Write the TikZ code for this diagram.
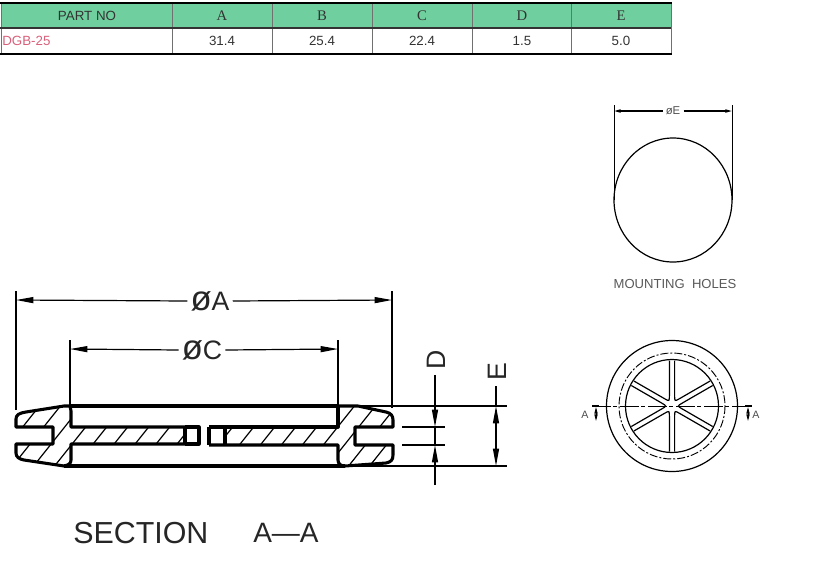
\documentclass[tikz,border=0pt]{standalone}
\usepackage{fontspec}
\setmainfont{Liberation Sans}
\newfontfamily\cellfont{Liberation Serif}
\usetikzlibrary{arrows.meta}
\definecolor{headgreen}{HTML}{70CF9E}
\definecolor{partred}{HTML}{D9607A}
\definecolor{cellline}{HTML}{707070}
\tikzset{
    bigtip/.style={>={Stealth[length=13pt,width=4.5pt,inset=0pt]}},
    smalltip/.style={>={Stealth[length=5pt,width=2.4pt,inset=0pt]}},
    outline/.style={line width=2.3pt, line join=round},
    dimline/.style={line width=0.9pt},
    thinline/.style={line width=0.7pt},
    hatchline/.style={line width=0.9pt},
    cell/.style={font=\fontsize{10}{12}\selectfont, text=black!80},
    bigtext/.style={font=\fontsize{20}{24}\selectfont, text=black!85, inner sep=0pt},
}
\newcommand{\diasign}{{\fontsize{26}{24}\selectfont ø}}
\begin{document}
\begin{tikzpicture}[x=0.75pt, y=-0.75pt]
    \useasboundingbox (0,0) rectangle (821,576);
    % table
    \fill[headgreen] (1,4) rectangle (671,28);
    \foreach \colx in {172,272,372,472,571}
        \draw[cellline, thinline] (\colx,3) -- (\colx,53);
    \draw[cellline, thinline] (1,3) -- (1,53);
    \draw[cellline, thinline] (671,3) -- (671,53);
    \draw[black!80, line width=0.8pt] (0,28) -- (671,28);
    \draw[black, line width=1.3pt] (0,3) -- (672,3);
    \draw[black, line width=1.3pt] (0,54) -- (672,54);
    \node[cell] (partno) at (87,15.5) {PART NO};
    \node[cell, text=partred, anchor=west, inner sep=0pt] (dgb) at (2,41) {DGB-25};
    \foreach \colx/\colname/\colval in {222/A/31.4, 322/B/25.4, 422/C/22.4, 522/D/1.5, 621/E/5.0} {
        \node[cell, font=\cellfont\fontsize{11}{12}\selectfont] (head\colname) at (\colx,15.5) {\colname};
        \node[cell] (val\colname) at (\colx,41) {\colval};
    }
    % section outline, left half
    \begin{scope}
        \clip (70,406) -- (64,406) -- (24,412) -- (16,418) -- (16,427) -- (53,427) -- (53,444) -- (16,444)
            -- (16,455) -- (22,459) -- (64,466) -- (70,463) -- (70,444) -- (185,444) -- (185,427) -- (70,427) -- cycle;
        \foreach \k in {-4,...,5}
            \draw[hatchline] ({72+21*\k+32},404) -- ({72+21*\k-19},468);
    \end{scope}
    \draw[outline] (70,406) -- (64,406) -- (26,412) .. controls (19,413) and (16,415) .. (16,419) -- (16,427) -- (53,427) -- (53,444)
        -- (16,444) -- (16,453) .. controls (16,457) and (19,459) .. (24,460) -- (64,466);
    \draw[outline] (70,406) -- (71,411) -- (71,427) -- (185,427);
    \draw[outline] (64,466) .. controls (68,465) and (71,464) .. (71,460) -- (71,444) -- (185,444);
    \draw[line width=3pt] (185,426) -- (185,445);
    \draw[outline] (185,427) -- (199,427) -- (199,444) -- (185,444);
    % section outline, right half
    \begin{scope}
        \clip (338,406) -- (358,406) -- (390,413) -- (393,420) -- (393,427) -- (355,427) -- (355,445) -- (393,445)
            -- (393,457) -- (388,463) -- (345,466) -- (338,463) -- (338,445) -- (225,445) -- (225,427) -- (338,427) -- cycle;
        \foreach \k in {-1,...,8}
            \draw[hatchline] ({240+21*\k+32},404) -- ({240+21*\k-19},468);
    \end{scope}
    \draw[outline] (338,406) -- (358,406) -- (386,412) .. controls (391,413) and (393,416) .. (393,420) -- (393,427) -- (355,427) -- (355,445)
        -- (393,445) -- (393,455) .. controls (393,460) and (391,462) .. (386,463) -- (345,466);
    \draw[outline] (345,466) .. controls (341,466) and (338,464) .. (338,460) -- (338,445) -- (209,445);
    \draw[outline] (338,406) -- (338,427) -- (209,427);
    \draw[outline] (209,427) -- (209,445);
    \draw[line width=3pt] (225,426) -- (225,446);
    % long walls
    \draw[line width=2.6pt] (70,406) -- (338,406);
    \draw[line width=2.6pt] (64,466) -- (345,466);
    % dimension phi A and phi C
    \node[bigtext] (diaA) at (210,301) {\diasign A};
    \node[bigtext] (diaC) at (202,350) {\diasign C};
    \coordinate (Aleft) at (16,300);
    \coordinate (Aright) at (392,300);
    \coordinate (Cleft) at (70,349);
    \coordinate (Cright) at (338,349);
    \draw[dimline] (16,291) -- (16,410);
    \draw[dimline] (392,291) -- (392,408);
    \draw[dimline] (70,340) -- (70,405);
    \draw[dimline] (338,340) -- (338,405);
    \draw[->, bigtip, dimline] (diaA.west) ++(-3,0) -- (Aleft);
    \draw[->, bigtip, dimline] (diaA.east) ++(3,0) -- (Aright);
    \draw[->, bigtip, dimline] (diaC.west) ++(-3,0) -- (Cleft);
    \draw[->, bigtip, dimline] (diaC.east) ++(3,0) -- (Cright);
    % dimension D and E
    \draw[dimline] (345,406) -- (507,406);
    \draw[dimline] (345,466) -- (507,466);
    \draw[dimline] (402,427) -- (445,427);
    \draw[dimline] (402,445) -- (445,445);
    \node[bigtext, rotate=90] (dimD) at (436,360) {D};
    \node[bigtext, rotate=90] (dimE) at (497,372) {E};
    \coordinate (Dtop) at (435,427);
    \coordinate (Dbot) at (435,445);
    \coordinate (Dend) at (435,485);
    \coordinate (Etop) at (496,406);
    \coordinate (Ebot) at (496,466);
    \draw[->, bigtip, dimline] (dimD.west) ++(-1,5) -- (Dtop);
    \draw[->, bigtip, dimline] (Dend) -- (Dbot);
    \draw[dimline] (Dtop) -- (Dbot);
    \draw[<->, bigtip, dimline] (Etop) -- (Ebot);
    \draw[dimline] (dimE.west) ++(-1,5) -- (Etop);
    \node[font=\fontsize{22.8}{28}\selectfont, text=black!85, anchor=west, inner sep=0pt] (sectitle) at (73,533) {SECTION};
    \node[font=\fontsize{21}{28}\selectfont, text=black!85, anchor=west, inner sep=0pt] (secname) at (253,533) {A—A};
    % mounting hole
    \draw[line width=0.9pt] (673,200) ellipse (59 and 62);
    \draw[thinline] (614,105) -- (614,200);
    \draw[thinline] (732,105) -- (732,200);
    \node[font=\fontsize{8.5}{9}\selectfont, text=black!70, inner sep=0pt] (diaE) at (673,111) {øE};
    \coordinate (Eleft) at (614,111);
    \coordinate (Eright) at (732,111);
    \draw[->, smalltip, dimline] (diaE.west) ++(-3,0) -- (Eleft);
    \draw[->, smalltip, dimline] (diaE.east) ++(3,0) -- (Eright);
    \node[font=\fontsize{9.8}{11}\selectfont, text=black!65, inner sep=0pt] (holes) at (675,284) {MOUNTING \ HOLES};
    % end view
    \draw[line width=0.9pt] (672,406) circle (65.5);
    \draw[thinline, dash pattern=on 6pt off 1.5pt on 1.5pt off 1.5pt] (672,406) circle (53);
    \draw[line width=0.9pt] (672,406) circle (46.5);
    \foreach \ang in {0,60,120,180,240,300} {
        \begin{scope}[shift={(672,406)}, rotate=\ang]
            \draw[line width=0.9pt] (40.7,20.5) -- (10.4,3) .. controls (5.2,0) and (5.2,0) .. (10.4,-3) -- (40.7,-20.5);
        \end{scope}
    }
    \draw[thinline, dash pattern=on 14pt off 2pt on 3pt off 2pt] (592,406) -- (752,406);
    \draw[line width=1.1pt] (592,406) -- (599,406);
    \draw[line width=1.1pt] (745,406) -- (752,406);
    \coordinate (cutLtop) at (596,407);
    \coordinate (cutLbot) at (596,421);
    \coordinate (cutRtop) at (748,407);
    \coordinate (cutRbot) at (748,421);
    \draw[<->, smalltip, thinline] (cutLtop) -- (cutLbot);
    \draw[<->, smalltip, thinline] (cutRtop) -- (cutRbot);
    \node[font=\fontsize{8}{9}\selectfont, text=black!70, inner sep=0pt] (cutL) at (585,415) {A};
    \node[font=\fontsize{8}{9}\selectfont, text=black!70, inner sep=0pt] (cutR) at (756,415) {A};
\end{tikzpicture}
\end{document}
